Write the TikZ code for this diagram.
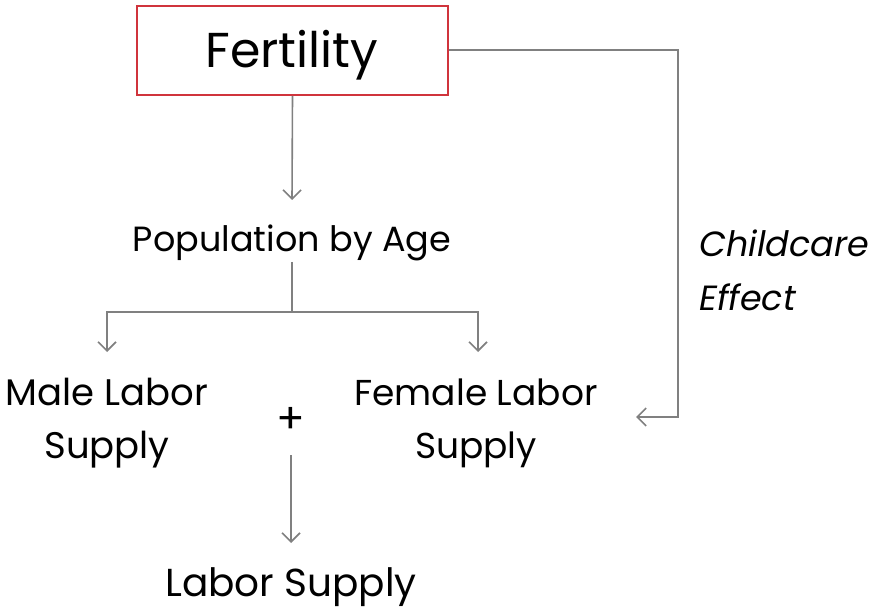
\documentclass[tikz,border=0pt]{standalone}
\usepackage{fontspec}
\setmainfont{Poppins}
\usetikzlibrary{arrows.meta}
\definecolor{linegray}{RGB}{128,128,128}
\definecolor{boxred}{RGB}{208,52,60}
\tikzset{
  conn/.style={draw=linegray, line width=1.6pt},
  arr/.style={conn, -{Straight Barb[length=9pt,width=18pt,line width=1.6pt]}},
  lbl/.style={inner sep=0pt, align=center, font=\fontsize{35}{53}\selectfont},
}
\begin{document}
\begin{tikzpicture}[x=1pt,y=-1pt]
\useasboundingbox (0,0) rectangle (872,609);
\node[draw=boxred, line width=1.6pt, minimum width=311pt, minimum height=89pt, inner sep=0pt] (fert) at (292.5,50.5) {};
\node[inner sep=0pt, font=\fontsize{49}{50}\selectfont] (ftxt) at (292,55) {Fertility};
\node[lbl] (pop) at (292,243) {Population by Age};
\node[lbl, font=\fontsize{37}{53}\selectfont] (male) at (107,423) {Male Labor\\Supply};
\node[lbl, font=\fontsize{36}{53}\selectfont] (female) at (476,423) {Female Labor\\Supply};
\node[lbl, font=\fontsize{42}{50}\selectfont] (plus) at (291,420) {+};
\node[lbl, font=\fontsize{39}{50}\selectfont] (ls) at (291,587) {Labor Supply};
\node[lbl, align=left, anchor=west, font=\fontsize{35}{54}\selectfont\itshape] (cc) at (699,270) {Childcare\\Effect};
\coordinate (j) at (292,312);
\coordinate (fe) at (636,417);
\draw[arr] (fert.south) -- (292,200);
\draw[conn] (292,262) -- (j);
\draw[arr] (j) -| (107,352);
\draw[arr] (j) -| (478,352);
\draw[arr] (291,455) -- (291,543);
\draw[arr] (fert.east |- 0,50) -| (678,417) -- (fe);
\end{tikzpicture}
\end{document}
